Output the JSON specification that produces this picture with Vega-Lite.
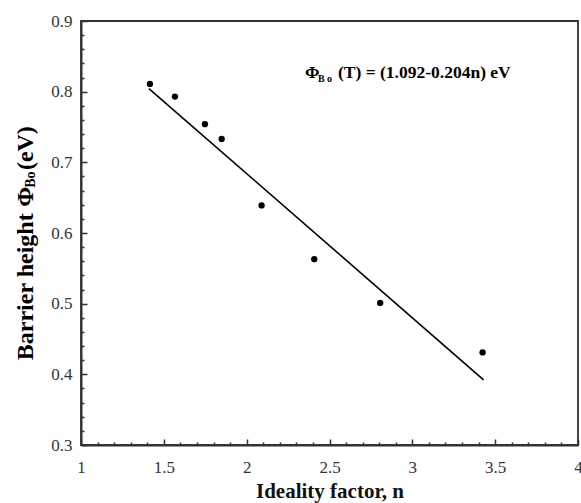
{
  "$schema": "https://vega.github.io/schema/vega-lite/v6.json",
  "width": 497,
  "height": 424,
  "autosize": {"type": "none"},
  "padding": {"left": 81, "top": 21, "right": 3, "bottom": 58},
  "background": "white",
  "config": {
    "view": {"stroke": "#333333", "strokeWidth": 1.8},
    "font": "Liberation Serif",
    "axis": {
      "grid": false,
      "labelFont": "Liberation Serif",
      "labelFontSize": 17,
      "labelColor": "#333333",
      "titleFont": "Liberation Serif",
      "titleColor": "#111111",
      "domainColor": "#333333",
      "domainWidth": 2,
      "tickColor": "#333333",
      "tickWidth": 1.5
    }
  },
  "datasets": {
    "pts": [
      {"n": 1.416, "phi": 0.811},
      {"n": 1.567, "phi": 0.793},
      {"n": 1.748, "phi": 0.754},
      {"n": 1.849, "phi": 0.733},
      {"n": 2.09, "phi": 0.639},
      {"n": 2.408, "phi": 0.563},
      {"n": 2.806, "phi": 0.501},
      {"n": 3.424, "phi": 0.431}
    ],
    "fit": [
      {"n": 1.41, "phi": 0.8044},
      {"n": 3.43, "phi": 0.3923}
    ],
    "ann": [
      {"t": "Φ", "n": 2.352, "phi": 0.819},
      {"t": "(T) = (1.092-0.204n) eV", "n": 2.551, "phi": 0.819}
    ],
    "annsub": [
      {"t": "B o", "n": 2.43, "phi": 0.814}
    ],
    "ytitle": [
      {"t": "Barrier height", "n": 0.71, "phi": 0.42},
      {"t": "Φ", "n": 0.71, "phi": 0.637},
      {"t": "(eV)", "n": 0.71, "phi": 0.689}
    ],
    "ytitlesub": [
      {"t": "Bo", "n": 0.724, "phi": 0.664}
    ]
  },
  "layer": [
    {
      "data": {"name": "pts"},
      "mark": {"type": "circle", "size": 40, "color": "black", "opacity": 1},
      "encoding": {
        "x": {
          "field": "n", "type": "quantitative",
          "scale": {"domain": [1, 4], "nice": false, "zero": false},
          "axis": {
            "orient": "bottom",
            "values": [1, 1.5, 2, 2.5, 3, 3.5, 4],
            "format": "~g",
            "ticks": false,
            "labelFont": "Liberation Serif",
            "labelPadding": 14,
            "labelFlush": false,
            "labelOverlap": false,
            "title": "Ideality factor, n",
            "titleFont": "Liberation Serif",
            "titleFontSize": 21,
            "titleFontWeight": "bold",
            "titlePadding": 5
          }
        },
        "y": {
          "field": "phi", "type": "quantitative",
          "scale": {"domain": [0.3, 0.9], "nice": false, "zero": false},
          "axis": {
            "orient": "left",
            "values": [0.3, 0.4, 0.5, 0.6, 0.7, 0.8, 0.9],
            "format": ".1f",
            "ticks": false,
            "labelFont": "Liberation Serif",
            "labelPadding": 9,
            "labelFlush": false,
            "labelOverlap": false,
            "title": null
          }
        }
      }
    },
    {
      "data": {"name": "pts"},
      "mark": {"type": "point", "opacity": 0},
      "encoding": {
        "x": {
          "field": "n", "type": "quantitative",
          "axis": {
            "orient": "bottom",
            "values": [1, 1.5, 2, 2.5, 3, 3.5, 4],
            "labels": false,
            "domain": false,
            "offset": -6,
            "tickSize": 6,
            "title": null
          }
        },
        "y": {
          "field": "phi", "type": "quantitative",
          "axis": {
            "orient": "left",
            "values": [0.3, 0.4, 0.5, 0.6, 0.7, 0.8, 0.9],
            "labels": false,
            "domain": false,
            "offset": -6,
            "tickSize": 6,
            "title": null
          }
        }
      }
    },
    {
      "data": {"name": "pts"},
      "mark": {"type": "point", "opacity": 0},
      "encoding": {
        "x": {
          "field": "n", "type": "quantitative",
          "axis": {
            "orient": "bottom",
            "values": [1.1, 1.2, 1.3, 1.4, 1.6, 1.7, 1.8, 1.9, 2.1, 2.2, 2.3, 2.4, 2.6, 2.7, 2.8, 2.9, 3.1, 3.2, 3.3, 3.4, 3.6, 3.7, 3.8, 3.9],
            "labels": false,
            "domain": false,
            "offset": -3,
            "tickSize": 3,
            "title": null
          }
        },
        "y": {
          "field": "phi", "type": "quantitative",
          "axis": {
            "orient": "left",
            "values": [0.32, 0.34, 0.36, 0.38, 0.42, 0.44, 0.46, 0.48, 0.52, 0.54, 0.56, 0.58, 0.62, 0.64, 0.66, 0.68, 0.72, 0.74, 0.76, 0.78, 0.82, 0.84, 0.86, 0.88],
            "labels": false,
            "domain": false,
            "offset": -3,
            "tickSize": 3,
            "title": null
          }
        }
      }
    },
    {
      "data": {"name": "fit"},
      "mark": {"type": "line", "color": "black", "strokeWidth": 1.6},
      "encoding": {
        "x": {"field": "n", "type": "quantitative", "axis": null},
        "y": {"field": "phi", "type": "quantitative", "axis": null}
      }
    },
    {
      "data": {"name": "ann"},
      "mark": {"type": "text", "font": "Liberation Serif", "fontSize": 17.5, "fontWeight": "bold", "align": "left", "baseline": "alphabetic", "color": "black"},
      "encoding": {
        "x": {"field": "n", "type": "quantitative", "axis": null},
        "y": {"field": "phi", "type": "quantitative", "axis": null},
        "text": {"field": "t"}
      }
    },
    {
      "data": {"name": "annsub"},
      "mark": {"type": "text", "font": "Liberation Serif", "fontSize": 10, "fontWeight": "bold", "align": "left", "baseline": "alphabetic", "color": "black"},
      "encoding": {
        "x": {"field": "n", "type": "quantitative", "axis": null},
        "y": {"field": "phi", "type": "quantitative", "axis": null},
        "text": {"field": "t"}
      }
    },
    {
      "data": {"name": "ytitle"},
      "mark": {"type": "text", "font": "Liberation Serif", "fontSize": 24, "fontWeight": "bold", "align": "left", "baseline": "alphabetic", "angle": 270, "color": "black"},
      "encoding": {
        "x": {"field": "n", "type": "quantitative", "axis": null},
        "y": {"field": "phi", "type": "quantitative", "axis": null},
        "text": {"field": "t"}
      }
    },
    {
      "data": {"name": "ytitlesub"},
      "mark": {"type": "text", "font": "Liberation Serif", "fontSize": 14, "fontWeight": "bold", "align": "left", "baseline": "alphabetic", "angle": 270, "color": "black"},
      "encoding": {
        "x": {"field": "n", "type": "quantitative", "axis": null},
        "y": {"field": "phi", "type": "quantitative", "axis": null},
        "text": {"field": "t"}
      }
    }
  ],
  "resolve": {"axis": {"x": "independent", "y": "independent"}}
}
